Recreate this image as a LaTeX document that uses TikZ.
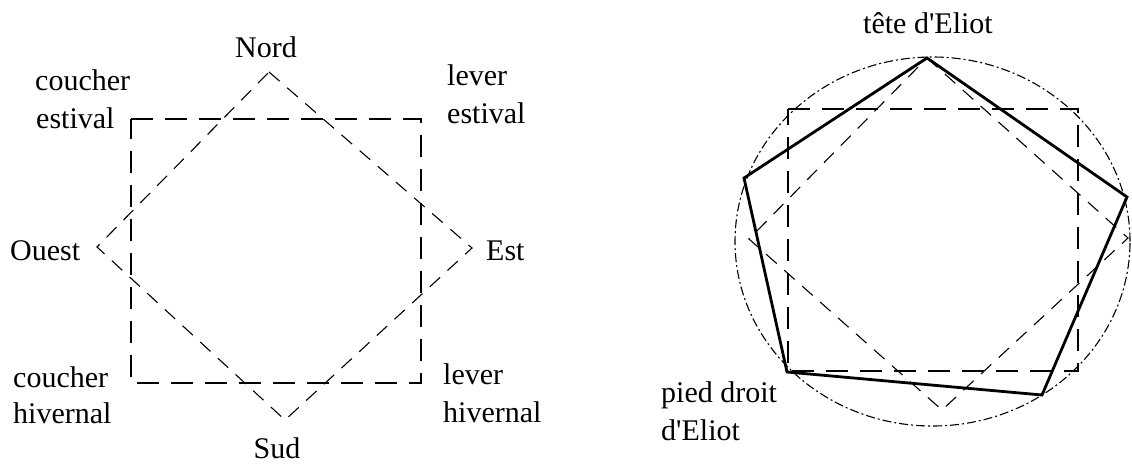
\documentclass[tikz,border=0pt]{standalone}
\usepackage{fontspec}
\setmainfont{Liberation Serif}[Ligatures=TeXOff]
\newcommand\lblfont{\fontsize{30}{37}\selectfont}
\begin{document}
\begin{tikzpicture}[x=1pt,y=-1pt,
  sq/.style={line width=1.5pt,dash pattern=on 22pt off 12pt},
  dia/.style={line width=1.1pt,dash pattern=on 14pt off 10pt},
  pent/.style={line width=2.8pt,line join=miter},
  circ/.style={line width=1.1pt,dash pattern=on 9pt off 3pt on 2pt off 3pt},
  lbl/.style={font=\lblfont,inner sep=0pt,anchor=base west},
  lblc/.style={font=\lblfont,inner sep=0pt,anchor=base}]
\useasboundingbox (0,0) rectangle (1132,463);
% ---------- left figure ----------
\coordinate (s1) at (131,119);
\coordinate (s2) at (421,119);
\coordinate (s3) at (421,383);
\coordinate (s4) at (131,383);
\draw[sq] (s1) -- (s2) -- (s3) -- (s4) -- cycle;
\coordinate (dN) at (269,72);
\coordinate (dE) at (472,248);
\coordinate (dS) at (285,420);
\coordinate (dO) at (97,247);
\draw[dia] (dN) -- (dE) -- (dS) -- (dO) -- cycle;
\node[lblc] (nord) at (266,57) {Nord};
\node[lblc,text depth=0pt] (sud) at (277,458) {Sud};
\node[lbl] (ouest) at (10,260) {Ouest};
\node[lbl] (est) at (486,260) {Est};
\node[lbl] (ce1) at (35,90) {coucher};
\node[lbl] (ce2) at (36,128) {estival};
\node[lbl] (le1) at (447,85) {lever};
\node[lbl] (le2) at (447,123) {estival};
\node[lbl] (ch1) at (13,387) {coucher};
\node[lbl] (ch2) at (13,423) {hivernal};
\node[lbl] (lh1) at (443,384) {lever};
\node[lbl] (lh2) at (443,422) {hivernal};
% ---------- right figure ----------
\coordinate (cc) at (932.5,241.5);
\draw[circ] (cc) ellipse [x radius=197.5pt, y radius=184.5pt];
\coordinate (r1) at (788,109);
\coordinate (r2) at (1078,109);
\coordinate (r3) at (1078,371);
\coordinate (r4) at (788,371);
\draw[sq] (r1) -- (r2) -- (r3) -- (r4) -- cycle;
\coordinate (eN) at (927,58);
\coordinate (eE) at (1128,238);
\coordinate (eS) at (942,410);
\coordinate (eO) at (749,239);
\draw[dia] (eN) -- (eE) -- (eS) -- (eO) -- cycle;
\coordinate (p1) at (927,58);
\coordinate (p2) at (1127,197);
\coordinate (p3) at (1042,395);
\coordinate (p4) at (787,372);
\coordinate (p5) at (744,178);
\draw[pent] (p1) -- (p2) -- (p3) -- (p4) -- (p5) -- cycle;
\node[lblc] (tete) at (928,33) {tête d'Eliot};
\node[lbl] (pd1) at (661,402) {pied droit};
\node[lbl] (pd2) at (661,440) {d'Eliot};
\end{tikzpicture}
\end{document}
